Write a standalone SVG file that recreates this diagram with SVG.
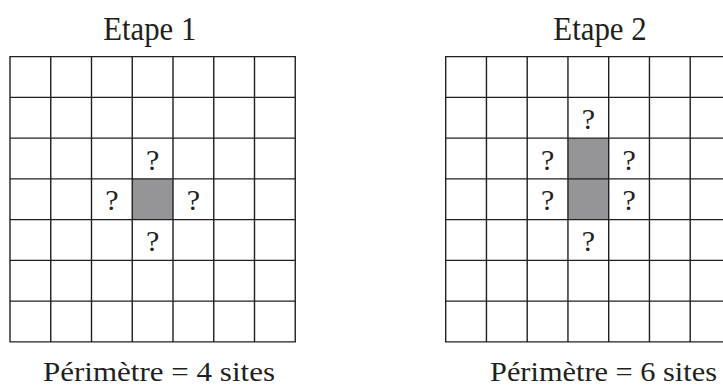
<svg xmlns="http://www.w3.org/2000/svg" width="723" height="387" viewBox="0 0 723 387">
  <style>
    .grid { fill: none; stroke: #231f20; stroke-width: 1.4; }
    .site { fill: #959597; }
    .t { font-family: "Liberation Serif", "Times New Roman", serif; fill: #231f20; }
    .q { font-size: 30px; text-anchor: middle; }
    .title { font-size: 33px; }
    .label { font-size: 27.5px; }
  </style>
  <defs>
    <path id="gridpath" class="grid" d="M0,0H285.25V285.25H0Z
      M40.75,0V285.25 M81.5,0V285.25 M122.25,0V285.25 M163,0V285.25 M203.75,0V285.25 M244.5,0V285.25
      M0,40.75H285.25 M0,81.5H285.25 M0,122.25H285.25 M0,163H285.25 M0,203.75H285.25 M0,244.5H285.25"/>
  </defs>
  <rect width="723" height="387" fill="#ffffff"/>

  <g id="etape1">
    <text class="t title" x="103.3" y="40" textLength="93" lengthAdjust="spacingAndGlyphs">Etape 1</text>
    <rect class="site" x="132.25" y="178.85" width="40.75" height="40.75"/>
    <use href="#gridpath" x="10" y="56.6"/>
    <text class="t q" x="152.6" y="169.5">?</text>
    <text class="t q" x="111.9" y="210.2">?</text>
    <text class="t q" x="193.4" y="210.2">?</text>
    <text class="t q" x="152.6" y="251">?</text>
    <text class="t label" x="43" y="381" textLength="232" lengthAdjust="spacingAndGlyphs">Périmètre = 4 sites</text>
  </g>

  <g id="etape2">
    <text class="t title" x="553.3" y="40" textLength="93.4" lengthAdjust="spacingAndGlyphs">Etape 2</text>
    <rect class="site" x="567.95" y="138.1" width="40.75" height="81.5"/>
    <use href="#gridpath" x="445.7" y="56.6"/>
    <text class="t q" x="588.3" y="128.7">?</text>
    <text class="t q" x="547.6" y="169.5">?</text>
    <text class="t q" x="629.1" y="169.5">?</text>
    <text class="t q" x="547.6" y="210.2">?</text>
    <text class="t q" x="629.1" y="210.2">?</text>
    <text class="t q" x="588.3" y="251">?</text>
    <text class="t label" x="490" y="381" textLength="227" lengthAdjust="spacingAndGlyphs">Périmètre = 6 sites</text>
  </g>

  <g id="connectors"/>
</svg>
